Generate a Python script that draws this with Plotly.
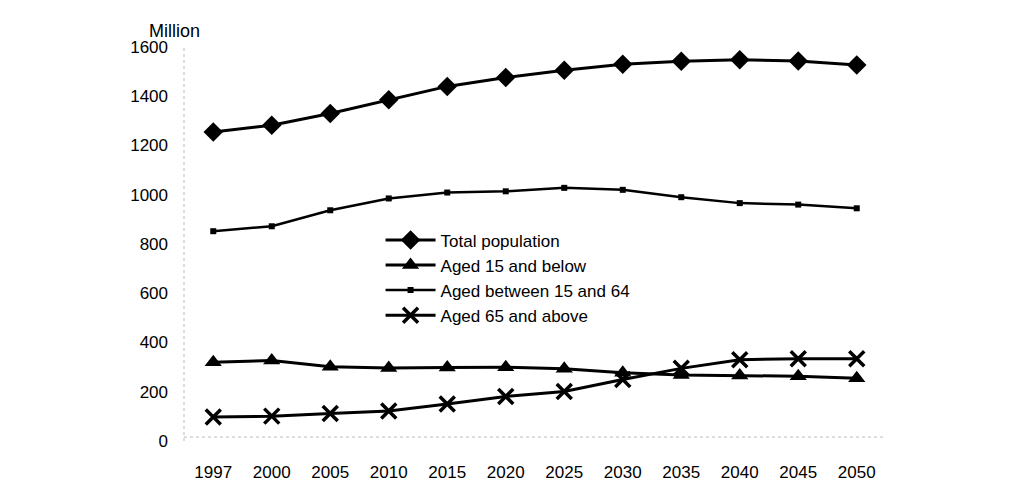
import plotly.graph_objects as go

years = ["1997", "2000", "2005", "2010", "2015", "2020", "2025", "2030", "2035", "2040", "2045", "2050"]
total = [1255, 1282, 1330, 1386, 1440, 1476, 1506, 1530, 1542, 1548, 1543, 1527]
below15 = [320, 327, 302, 296, 298, 300, 293, 277, 268, 266, 263, 255]
mid15_64 = [852, 872, 937, 985, 1009, 1014, 1028, 1020, 990, 966, 960, 945]
above65 = [97, 101, 112, 122, 150, 181, 201, 250, 295, 330, 334, 334]
names = ["Total population", "Aged 15 and below", "Aged between 15 and 64", "Aged 65 and above"]
yticks = [0, 200, 400, 600, 800, 1000, 1200, 1400, 1600]

fig = go.Figure()
fig.add_trace(go.Scatter(x=years, y=total, name=names[0], mode="lines+markers",
                         line=dict(color="black", width=3),
                         marker=dict(symbol="diamond", size=15, color="black")))
fig.add_trace(go.Scatter(x=years, y=below15, name=names[1], mode="lines+markers",
                         line=dict(color="black", width=3),
                         marker=dict(symbol="triangle-up", size=15, color="black")))
fig.add_trace(go.Scatter(x=years, y=mid15_64, name=names[2], mode="lines+markers",
                         line=dict(color="black", width=2.5),
                         marker=dict(symbol="square", size=6, color="black")))
fig.add_trace(go.Scatter(x=years, y=above65, name=names[3], mode="lines+markers",
                         line=dict(color="black", width=3),
                         marker=dict(symbol="x-thin", size=15, color="black",
                                     line=dict(color="black", width=3.5))))

# faint dotted axes
fig.add_shape(type="line", xref="paper", yref="paper", x0=0, x1=0, y0=0, y1=1,
              line=dict(color="#bbbbbb", width=1, dash="dot"))
fig.add_shape(type="line", xref="paper", yref="paper", x0=0, x1=1, y0=0.01, y1=0.01,
              line=dict(color="#bbbbbb", width=1, dash="dot"))

fig.add_annotation(text="Million", xref="paper", yref="paper", x=-0.053, y=1.04,
                   xanchor="left", yanchor="middle", showarrow=False,
                   font=dict(family="Liberation Sans, Arial", size=18, color="black"))

fig.update_layout(
    width=1011, height=499,
    margin=dict(l=184, r=125, t=47, b=58),
    paper_bgcolor="white", plot_bgcolor="white",
    font=dict(family="Liberation Sans, Arial", size=17, color="black"),
    showlegend=True,
    legend=dict(x=0.28, y=0.555, xanchor="left", yanchor="top",
                bgcolor="rgba(0,0,0,0)", font=dict(size=17), tracegroupgap=0,
                itemwidth=50),
)
fig.update_xaxes(showgrid=False, zeroline=False, showline=False, ticks="",
                 type="category", range=[-0.5, 11.5], ticklabelstandoff=19)
fig.update_yaxes(range=[0, 1600], tickvals=yticks, showgrid=False, zeroline=False,
                 showline=False, ticks="", ticklabelstandoff=15)

fig.write_html("out.html")
